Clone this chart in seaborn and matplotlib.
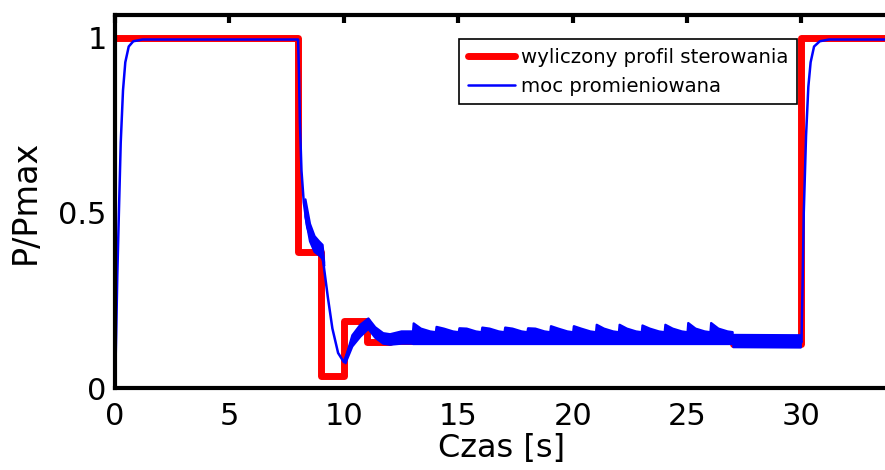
import numpy as np
import pandas as pd
import matplotlib
matplotlib.use("Agg")
import matplotlib.pyplot as plt
import seaborn as sns
from matplotlib.lines import Line2D

# ---- data ----
# computed control profile (red step signal): value holds from each time until the next
ctrl_t = [0, 8, 9, 10, 11, 12, 27, 30, 34]
ctrl_v = [1.0, 0.387, 0.035, 0.19, 0.13, 0.133, 0.125, 1.0, 1.0]

# radiated power (blue), main trace
blue_t = [0, 0.05, 0.1, 0.17, 0.25, 0.35, 0.45, 0.6, 0.8, 1.2,
          8.0, 8.04, 8.08, 8.15, 8.25, 8.4, 8.6, 9.0, 9.1, 9.3, 9.5, 9.75, 10.0,
          10.35, 10.7, 11.05, 11.35, 11.7, 12.0, 12.5, 12.95, 29.95,
          30.0, 30.05, 30.1, 30.2, 30.3, 30.4, 30.55, 30.8, 31.2, 34.0]
blue_y = [0, 0.15, 0.32, 0.5, 0.7, 0.85, 0.93, 0.975, 0.99, 0.995,
          0.995, 0.9, 0.76, 0.62, 0.53, 0.46, 0.42, 0.395, 0.36, 0.26, 0.17, 0.10, 0.074,
          0.135, 0.165, 0.19, 0.16, 0.14, 0.138, 0.145, 0.147, 0.135,
          0.13, 0.3, 0.5, 0.72, 0.86, 0.93, 0.975, 0.99, 0.995, 0.995]

# noisy band of the blue signal (lower / upper envelope)
band1_t = [8.3, 8.5, 8.7, 8.9, 9.05, 9.12]
band1_lo = [0.49, 0.42, 0.39, 0.38, 0.37, 0.35]
band1_hi = [0.54, 0.47, 0.435, 0.42, 0.41, 0.36]

band2_t = [10.05, 10.35, 10.7, 11.05, 11.35, 11.7, 12.0, 12.5, 12.98]
band2_lo = [0.072, 0.12, 0.148, 0.17, 0.145, 0.128, 0.125, 0.128, 0.128]
band2_hi = [0.085, 0.152, 0.182, 0.2, 0.175, 0.158, 0.155, 0.163, 0.163]

# periodic spikes of the blue band (start time, peak of upper envelope)
spike_t = [13, 14, 15, 16, 17, 18, 19, 20, 21, 22, 23, 24, 25, 26]
spike_peak = [0.186, 0.176, 0.172, 0.174, 0.174, 0.172, 0.178, 0.178,
              0.182, 0.182, 0.18, 0.182, 0.187, 0.187]
saw_end_hi = 0.161
saw_lo = 0.127

tail_t = [27.0, 29.95]
tail_lo = [0.118, 0.117]
tail_hi = [0.153, 0.152]

RED = "#ff0000"
BLUE = "#0000ff"

sns.set_style("white")
plt.rcParams["font.family"] = ["DejaVu Sans"]
plt.rcParams["text.color"] = "black"
plt.rcParams["axes.labelcolor"] = "black"
plt.rcParams["xtick.color"] = "black"
plt.rcParams["ytick.color"] = "black"

fig = plt.figure(figsize=(8.85, 4.7), dpi=100)
ax = fig.add_axes([115 / 885, 82 / 470, (893 - 115) / 885, (388 - 15) / 470])

df_ctrl = pd.DataFrame({"t": ctrl_t, "v": ctrl_v})
sns.lineplot(data=df_ctrl, x="t", y="v", ax=ax, color=RED, linewidth=5,
             drawstyle="steps-post", estimator=None, sort=False, zorder=2)

df_blue = pd.DataFrame({"t": blue_t, "v": blue_y})
sns.lineplot(data=df_blue, x="t", y="v", ax=ax, color=BLUE, linewidth=1.8,
             estimator=None, sort=False, zorder=3)

# build sawtooth band from the spike readings
saw_t, saw_hi = [], []
for s, p in zip(spike_t, spike_peak):
    saw_t += [s, s + 0.03, s + 0.35, s + 0.75, s + 0.97]
    saw_hi += [saw_end_hi, p, saw_end_hi + 0.01, saw_end_hi + 0.002, saw_end_hi]
saw_lo_arr = [saw_lo] * len(saw_t)

for bt, lo, hi in [(band1_t, band1_lo, band1_hi),
                   (band2_t, band2_lo, band2_hi),
                   (saw_t, saw_lo_arr, saw_hi),
                   (tail_t, tail_lo, tail_hi)]:
    ax.fill_between(bt, lo, hi, color=BLUE, linewidth=1.6, edgecolor=BLUE, zorder=3)

ax.set_xlim(0, 34)
ax.set_ylim(0, 1.065)
ax.set_xticks([0, 5, 10, 15, 20, 25, 30])
ax.set_xticklabels(["0", "5", "10", "15", "20", "25", "30"])
ax.set_yticks([0, 0.5, 1])
ax.set_yticklabels(["0", "0.5", "1"])

for sp in ax.spines.values():
    sp.set_visible(True)
    sp.set_linewidth(3)
    sp.set_color("black")
    sp.set_zorder(5)

ax.tick_params(axis="both", direction="in", length=6, width=3, colors="black",
               labelsize=22, top=True, right=True)
ax.tick_params(axis="x", pad=10)
ax.tick_params(axis="y", pad=6)

ax.set_xlabel("Czas [s]", fontsize=23, color="black")
ax.set_ylabel("P/Pmax", fontsize=24, color="black")
ax.xaxis.set_label_coords(0.497, -0.12)
ax.xaxis.label.set_va("top")
ax.yaxis.set_label_coords(-0.094, 0.5)

handles = [Line2D([], [], color=RED, linewidth=5),
           Line2D([], [], color=BLUE, linewidth=1.8)]
leg = ax.legend(handles, ["wyliczony profil sterowania", "moc promieniowana"],
                loc="upper right", bbox_to_anchor=(0.877, 0.936), borderaxespad=0,
                fontsize=14.2, frameon=True, fancybox=False, shadow=False,
                handlelength=2.4, handletextpad=0.3, labelspacing=0.5,
                borderpad=0.45)
leg.get_frame().set_edgecolor("black")
leg.get_frame().set_linewidth(1.2)
leg.get_frame().set_facecolor("white")
leg.get_frame().set_alpha(1)
for t in leg.get_texts():
    t.set_color("black")

fig.savefig("out.png", dpi=100)
